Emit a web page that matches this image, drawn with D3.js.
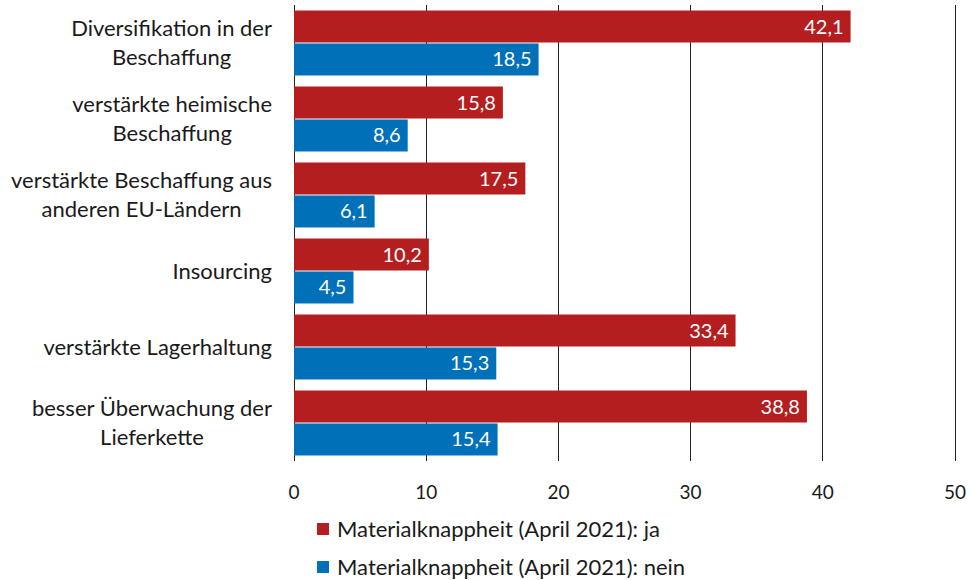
<!DOCTYPE html>
<html>
<head>
<meta charset="utf-8">
<script src="https://cdn.jsdelivr.net/npm/d3@7"></script>
<style>
  body { margin: 0; background: #fff; }
  text { font-family: Lato, "Open Sans", sans-serif; fill: #1a1a1a; }
</style>
</head>
<body>
<svg id="chart" width="971" height="580"></svg>
<script>
// categories (label lines) and series values
var categories = [
    ["Diversifikation in der", "Beschaffung"],
    ["verstärkte heimische", "Beschaffung"],
    ["verstärkte Beschaffung aus", "anderen EU-Ländern"],
    ["Insourcing"],
    ["verstärkte Lagerhaltung"],
    ["besser Überwachung der", "Lieferkette"]
];
var valuesJa = [42.1, 15.8, 17.5, 10.2, 33.4, 38.8];
var valuesNein = [18.5, 8.6, 6.1, 4.5, 15.3, 15.4];
var seriesNames = ["Materialknappheit (April 2021): ja", "Materialknappheit (April 2021): nein"];
var xTicks = [0, 10, 20, 30, 40, 50];

var colors = ["#b41e1f", "#0070b9"];
var fmt = function(v) { return d3.format(".1f")(v).replace(".", ","); };

var svg = d3.select("#chart");
var x = d3.scaleLinear().domain([0, 50]).range([294, 955]);
var y = d3.scaleBand().domain(d3.range(categories.length)).range([5, 461]).paddingInner(0.145).paddingOuter(0.0725);
var sub = d3.scaleBand().domain([0, 1]).range([0, y.bandwidth()]).paddingInner(0.03);

// gridlines
svg.append("g").selectAll("line")
    .data(xTicks)
    .enter().append("line")
    .attr("x1", x).attr("x2", x)
    .attr("y1", 5).attr("y2", 461)
    .attr("stroke", "#222")
    .attr("stroke-width", 1)
    .attr("shape-rendering", "crispEdges");

// tick labels
svg.append("g").selectAll("text")
    .data(xTicks)
    .enter().append("text")
    .attr("x", x)
    .attr("y", 499)
    .attr("text-anchor", "middle")
    .style("font-size", "19px")
    .text(function(d) { return d; });

// bars
var series = [valuesJa, valuesNein];
series.forEach(function(vals, s) {
    var g = svg.append("g");
    g.selectAll("rect")
        .data(vals)
        .enter().append("rect")
        .attr("x", x(0))
        .attr("y", function(d, i) { return y(i) + sub(s); })
        .attr("width", function(d) { return x(d) - x(0); })
        .attr("height", sub.bandwidth())
        .attr("fill", colors[s]);
    g.selectAll("text")
        .data(vals)
        .enter().append("text")
        .attr("x", function(d) { return x(d) - 7; })
        .attr("y", function(d, i) { return y(i) + sub(s) + sub.bandwidth() / 2; })
        .attr("dy", "0.35em")
        .attr("text-anchor", "end")
        .style("font-size", "20px")
        .style("fill", "#fff")
        .text(fmt);
});

// category labels: block right-aligned, lines centered within block
var labelRight = 272;
categories.forEach(function(lines, i) {
    var g = svg.append("g");
    var texts = g.selectAll("text")
        .data(lines)
        .enter().append("text")
        .style("font-size", "22px")
        .attr("text-anchor", "middle")
        .attr("dy", "0.35em")
        .text(function(d) { return d; });
    var maxW = 0;
    texts.each(function() { maxW = Math.max(maxW, this.getComputedTextLength()); });
    var cy = y(i) + y.bandwidth() / 2;
    var lh = 29;
    texts.attr("x", labelRight - maxW / 2)
        .attr("y", function(d, j) { return cy + (j - (lines.length - 1) / 2) * lh; });
});

// legend
var legend = svg.append("g").selectAll("g")
    .data(seriesNames)
    .enter().append("g")
    .attr("transform", function(d, i) { return "translate(317," + (529 + i * 38) + ")"; });
legend.append("rect")
    .attr("x", 0).attr("y", -6)
    .attr("width", 12).attr("height", 12)
    .attr("fill", function(d, i) { return colors[i]; });
legend.append("text")
    .attr("x", 20)
    .attr("dy", "0.35em")
    .style("font-size", "22px")
    .text(function(d) { return d; });
</script>
</body>
</html>
